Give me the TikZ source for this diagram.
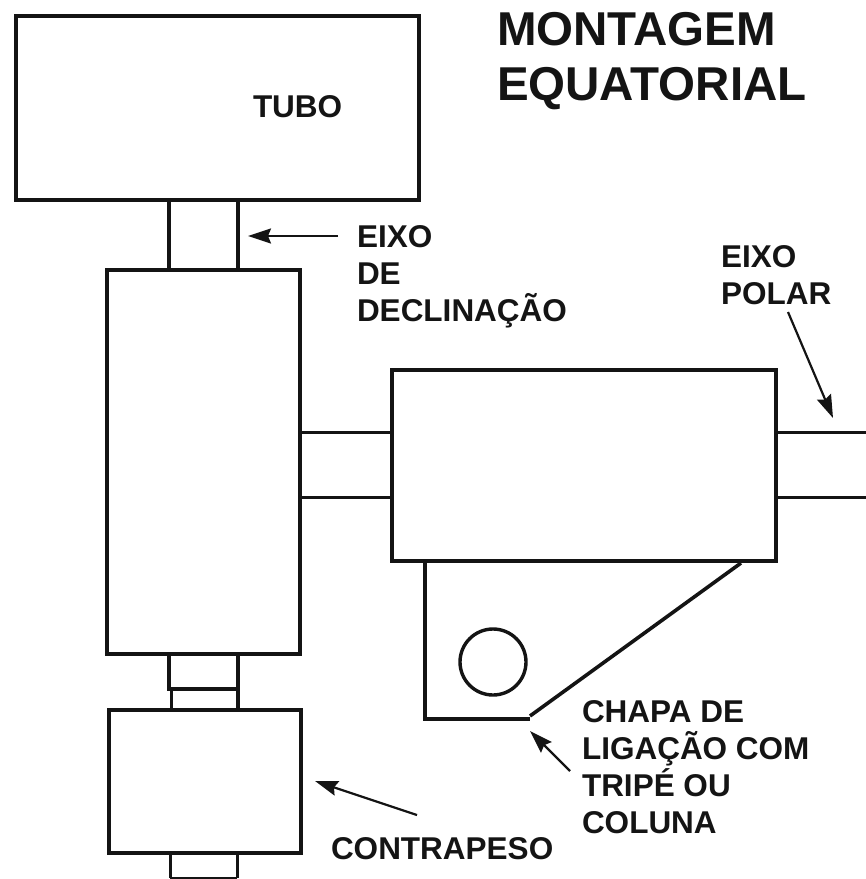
\documentclass[tikz,border=0pt]{standalone}
\usepackage{fontspec}
\setmainfont{Liberation Sans}
\usetikzlibrary{arrows.meta}
\definecolor{ink}{HTML}{141414}
\tikzset{
  part/.style={draw=ink,line width=4.2pt,inner sep=0pt,outer sep=0pt,fill=white,line join=miter},
  wire/.style={draw=ink,line width=4.2pt},
  thin wire/.style={draw=ink,line width=3pt},
  pointer/.style={draw=ink,line width=2.2pt,-{Stealth[length=23pt,width=15pt,inset=3pt]}},
  small label/.style={inner sep=0pt,outer sep=0pt,anchor=base west,text=ink,font=\bfseries\fontsize{31.5}{37}\selectfont,align=left},
  big label/.style={inner sep=0pt,outer sep=0pt,anchor=base west,text=ink,font=\bfseries\fontsize{47.5}{55}\selectfont,align=left}
}
\begin{document}
\begin{tikzpicture}[x=1pt,y=-1pt]
\useasboundingbox (0,0) rectangle (866,879);
% main bodies
\node[part,minimum width=403pt,minimum height=184pt] (tubo) at (217.5,108) {};
\node[part,minimum width=69pt,minimum height=70pt] (shaftdec) at (203.5,235) {};
\node[part,minimum width=193pt,minimum height=384pt] (dec) at (203.5,462) {};
\node[part,minimum width=384pt,minimum height=191pt] (polar) at (584,465.5) {};
\node[part,minimum width=192pt,minimum height=143pt] (contra) at (205,781.5) {};
\node[part,line width=3.4pt,circle,minimum size=66pt] (furo) at (493,662) {};
% shaft between declination body and counterweight
\node[part,line width=3.4pt,minimum width=69pt,minimum height=35pt] (collar) at (203.5,671.5) {};
\coordinate (cA) at (171,689); \coordinate (cB) at (171,710);
\coordinate (cC) at (238,689); \coordinate (cD) at (238,710);
\draw[thin wire] (cA) -- (cB);
\draw[wire] (cC) -- (cD);
% polar shaft
\coordinate (pa1) at (dec.east |- 0,432); \coordinate (pa2) at (polar.west |- 0,432);
\coordinate (pb1) at (dec.east |- 0,497); \coordinate (pb2) at (polar.west |- 0,497);
\coordinate (pc1) at (polar.east |- 0,432); \coordinate (pc2) at (866,432);
\coordinate (pd1) at (polar.east |- 0,497); \coordinate (pd2) at (866,497);
\draw[thin wire] (pa1) -- (pa2);
\draw[thin wire] (pb1) -- (pb2);
\draw[thin wire] (pc1) -- (pc2);
\draw[thin wire] (pd1) -- (pd2);
% plate
\coordinate (pl1) at (425,561); \coordinate (pl2) at (425,719);
\coordinate (pl3) at (530,719); \coordinate (pl4) at (530,716); \coordinate (pl5) at (741,563);
\draw[wire,line join=miter] (pl1) -- (pl2) -- (pl3);
\draw[thin wire,line width=3.6pt] (pl4) -- (pl5);
% stub below counterweight
\coordinate (st1) at (170,853); \coordinate (st2) at (170,878);
\coordinate (st3) at (237,878); \coordinate (st4) at (237,853);
\draw[thin wire] (st1) -- (st2);
\draw[thin wire] (st3) -- (st4);
\draw[draw=ink,line width=1.2pt] (st2) -- (st3);
% texts
\node[big label] (titulo) at (497,100) {MONTAGEM\\EQUATORIAL};
\node[small label] (ltubo) at (253,117) {TUBO};
\node[small label] (leixo) at (357,321) {EIXO\\DE\\DECLINAÇÃO};
\node[small label] (lpolar) at (721,304) {EIXO\\POLAR};
\node[small label] (lchapa) at (582,833) {CHAPA DE\\LIGAÇÃO COM\\TRIPÉ OU\\COLUNA};
\node[small label] (lcontra) at (331,859) {CONTRAPESO};
% arrows
\coordinate (a1s) at (338,236); \coordinate (a1e) at (248,236);
\coordinate (a2s) at (788,312); \coordinate (a2e) at (833,418);
\coordinate (a3s) at (417,815); \coordinate (a3e) at (315,781);
\coordinate (a4s) at (570,771); \coordinate (a4e) at (530,731);
\draw[pointer] (a1s) -- (a1e);
\draw[pointer] (a2s) -- (a2e);
\draw[pointer] (a3s) -- (a3e);
\draw[pointer] (a4s) -- (a4e);
\end{tikzpicture}
\end{document}
